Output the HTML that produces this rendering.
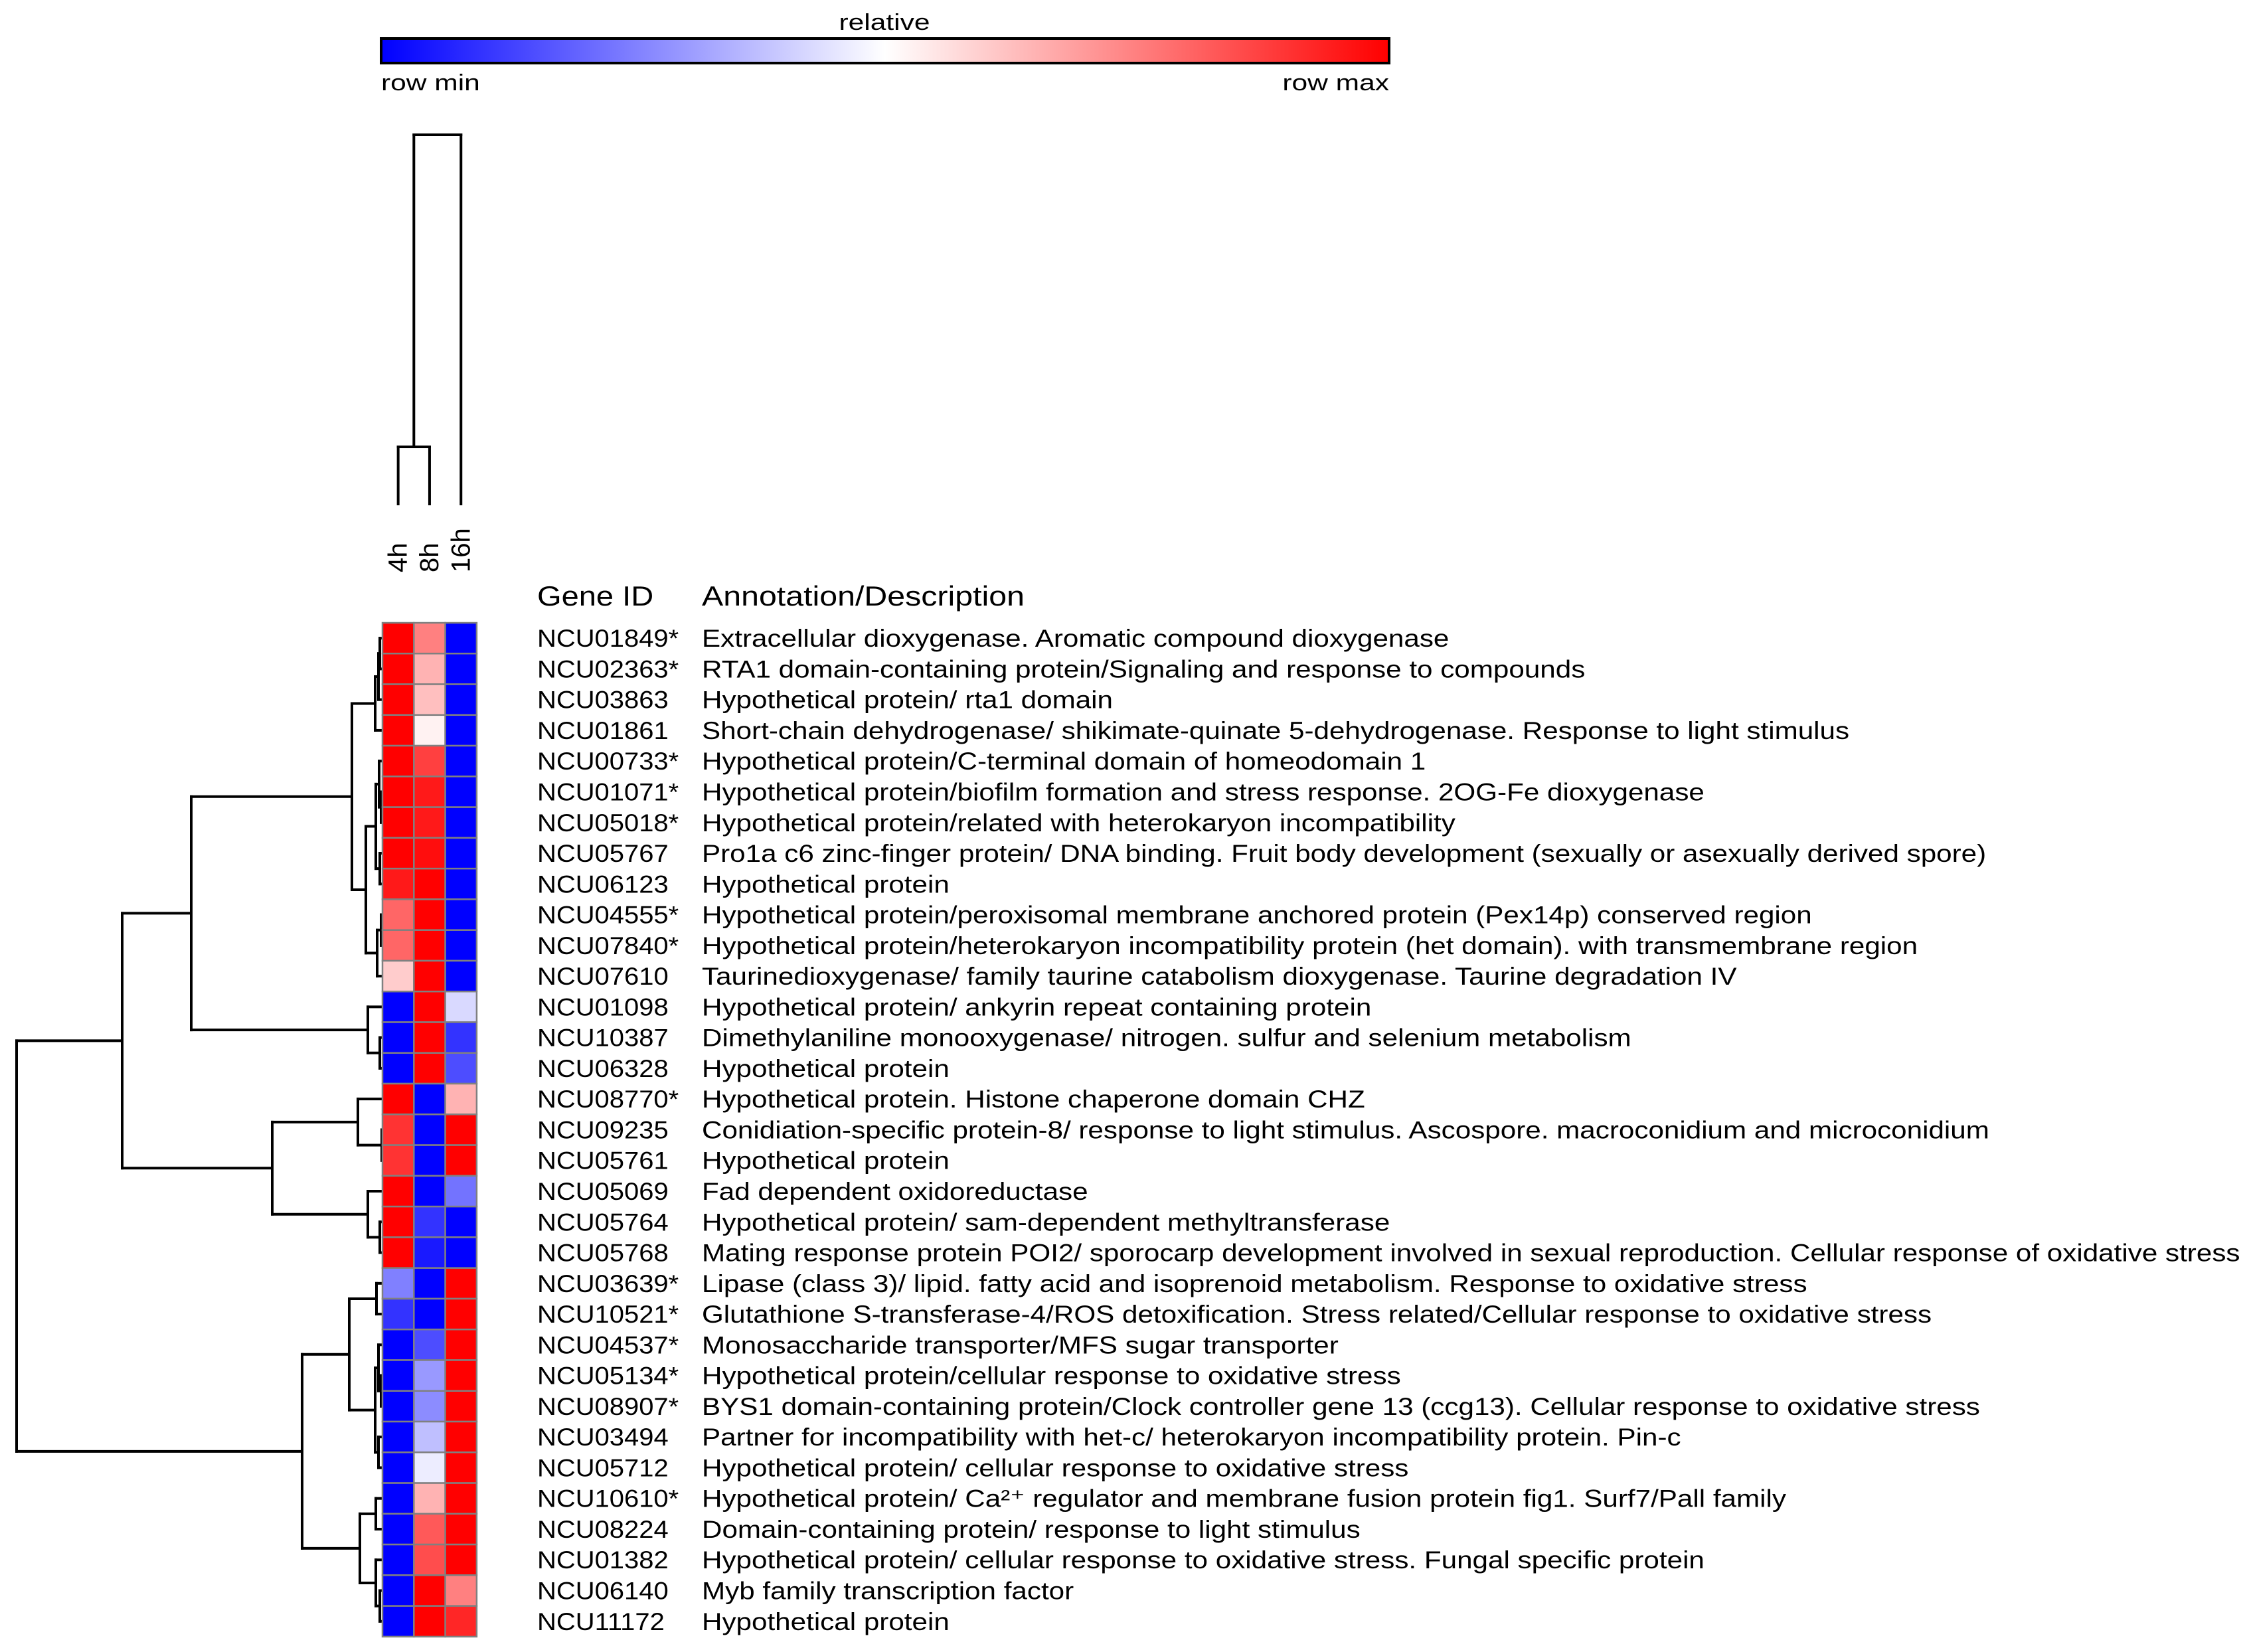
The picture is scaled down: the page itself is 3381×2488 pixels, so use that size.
<!DOCTYPE html>
<html><head><meta charset="utf-8"><style>
html,body{margin:0;padding:0;background:#fff}
svg{display:block}
text{font-family:"Liberation Sans",Arial,sans-serif;fill:#000}
</style></head><body>
<svg id="chart" width="3381" height="2488" viewBox="0 0 3381 2488" xmlns="http://www.w3.org/2000/svg">
<defs><linearGradient id="grad" x1="0" x2="1" y1="0" y2="0">
<stop offset="0" stop-color="#0000ff"/><stop offset="0.5" stop-color="#ffffff"/><stop offset="1" stop-color="#ff0000"/></linearGradient></defs>
<g>
<text class="sc" data-k="1.25" x="1332" y="45" font-size="34" text-anchor="middle">relative</text>
<rect x="574" y="58" width="1518" height="37" fill="url(#grad)" stroke="#000" stroke-width="4"/>
<text class="sc" data-k="1.25" x="574" y="136" font-size="34">row min</text>
<text class="sc" data-k="1.25" x="2092" y="136" font-size="34" text-anchor="end">row max</text>
</g>
<g id="coldend"></g>
<g id="cols"></g>
<text class="sc" data-k="1.12" x="809" y="912" font-size="42">Gene ID</text>
<text class="sc" data-k="1.15" x="1057" y="912" font-size="42">Annotation/Description</text>
<g id="rowdend"></g>
<g id="cells"></g>
<g id="labels"></g>
</svg>
<script>
const columns = ["4h","8h","16h"];
const geneIds = ["NCU01849*","NCU02363*","NCU03863","NCU01861","NCU00733*","NCU01071*","NCU05018*","NCU05767","NCU06123","NCU04555*","NCU07840*","NCU07610","NCU01098","NCU10387","NCU06328","NCU08770*","NCU09235","NCU05761","NCU05069","NCU05764","NCU05768","NCU03639*","NCU10521*","NCU04537*","NCU05134*","NCU08907*","NCU03494","NCU05712","NCU10610*","NCU08224","NCU01382","NCU06140","NCU11172"];
const annotations = ["Extracellular dioxygenase. Aromatic compound dioxygenase","RTA1 domain-containing protein/Signaling and response to compounds","Hypothetical protein/ rta1 domain","Short-chain dehydrogenase/ shikimate-quinate 5-dehydrogenase. Response to light stimulus","Hypothetical protein/C-terminal domain of homeodomain 1","Hypothetical protein/biofilm formation and stress response. 2OG-Fe dioxygenase","Hypothetical protein/related with heterokaryon incompatibility","Pro1a c6 zinc-finger protein/ DNA binding. Fruit body development (sexually or asexually derived spore)","Hypothetical protein","Hypothetical protein/peroxisomal membrane anchored protein (Pex14p) conserved region","Hypothetical protein/heterokaryon incompatibility protein (het domain). with transmembrane region","Taurinedioxygenase/ family taurine catabolism dioxygenase. Taurine degradation IV","Hypothetical protein/ ankyrin repeat containing protein","Dimethylaniline monooxygenase/ nitrogen. sulfur and selenium metabolism","Hypothetical protein","Hypothetical protein. Histone chaperone domain CHZ","Conidiation-specific protein-8/ response to light stimulus. Ascospore. macroconidium and microconidium","Hypothetical protein","Fad dependent oxidoreductase","Hypothetical protein/ sam-dependent methyltransferase","Mating response protein POI2/ sporocarp development involved in sexual reproduction. Cellular response of oxidative stress","Lipase (class 3)/ lipid. fatty acid and isoprenoid metabolism. Response to oxidative stress","Glutathione S-transferase-4/ROS detoxification. Stress related/Cellular response to oxidative stress","Monosaccharide transporter/MFS sugar transporter","Hypothetical protein/cellular response to oxidative stress","BYS1 domain-containing protein/Clock controller gene 13 (ccg13). Cellular response to oxidative stress","Partner for incompatibility with het-c/ heterokaryon incompatibility protein. Pin-c","Hypothetical protein/ cellular response to oxidative stress","Hypothetical protein/ Ca\u00b2\u207a regulator and membrane fusion protein fig1. Surf7/Pall family","Domain-containing protein/ response to light stimulus","Hypothetical protein/ cellular response to oxidative stress. Fungal specific protein","Myb family transcription factor","Hypothetical protein"];
const vals4h  = [1,1,1,1,1,1,1,1,0.9,0.6,0.6,0.2,-1,-1,-1,1,0.8,0.8,1,1,1,-0.5,-0.8,-1,-1,-1,-1,-1,-1,-1,-1,-1,-1];
const vals8h  = [0.5,0.3,0.25,0.05,0.75,0.9,0.9,0.95,1,1,1,1,1,1,1,-1,-1,-1,-1,-0.8,-0.9,-1,-1,-0.7,-0.4,-0.45,-0.25,-0.07,0.3,0.65,0.7,1,1];
const vals16h = [-1,-1,-1,-1,-1,-1,-1,-1,-1,-1,-1,-1,-0.15,-0.8,-0.7,0.3,1,1,-0.55,-1,-1,1,1,1,1,1,1,1,1,1,1,0.5,0.85];
// row dendrogram merges: [height(x px), left, right]
const rowTree = [25,[184,[288,[530,[565,[570,[572,0,1],2],3],[551,[566,[571,4,[574,5,6]],[572,7,8]],[568,[574,9,10],11]]],[554,12,[572,13,14]]],[410,[539,15,[575,16,17]],[554,18,[572,19,20]]]],[455,[526,[567,21,22],[565,[570,23,[574,24,25]],[570,26,27]]],[542,[566,28,29],[566,30,[572,31,32]]]]];

const NS="http://www.w3.org/2000/svg";
const X0=576, CW=47.3, Y0=938, RH=46.27;
const colX=i=>X0+CW*i, rowY=i=>Y0+RH*i;
function color(v){ if(v>=0){const c=Math.round(255*(1-v));return `rgb(255,${c},${c})`;} const c=Math.round(255*(1+v));return `rgb(${c},${c},255)`; }
function mk(tag,attrs,parent){const e=document.createElementNS(NS,tag);for(const k in attrs)e.setAttribute(k,attrs[k]);parent.appendChild(e);return e;}
const series=[vals4h,vals8h,vals16h];
const cells=document.getElementById('cells'), labels=document.getElementById('labels');
for(let r=0;r<geneIds.length;r++){
  for(let c=0;c<3;c++){
    const e=mk('rect',{x:colX(c),y:rowY(r),width:CW,height:RH,fill:color(series[c][r]),stroke:'#808080','stroke-width':2.5},cells);
    
    
  }
  const g=mk('text',{x:809,y:rowY(r)+RH/2+13,'font-size':37,'class':'sc','data-k':'1.08'},labels);
  g.textContent=geneIds[r];
  
  
  const a=mk('text',{x:1057,y:rowY(r)+RH/2+13,'font-size':37,'class':'sc','data-k':'1.14'},labels);
  a.textContent=annotations[r];
  
  
}
const rd=document.getElementById('rowdend');
function line(x1,y1,x2,y2,p){const e=mk('line',{x1,y1,x2,y2,stroke:'#000','stroke-width':4,'stroke-linecap':'square'},p);}
function draw(n){
  if(typeof n==='number') return {x:X0,y:rowY(n)+RH/2};
  const a=draw(n[1]), b=draw(n[2]), h=n[0];
  line(h,a.y,a.x,a.y,rd); line(h,b.y,b.x,b.y,rd); line(h,a.y,h,b.y,rd);
  return {x:h,y:(a.y+b.y)/2};
}
draw(rowTree);
const colTree=[203,[673,0,1],2];
const cd=document.getElementById('coldend');
function drawC(n){
  if(typeof n==='number') return {x:colX(n)+CW/2,y:759};
  const a=drawC(n[1]), b=drawC(n[2]), h=n[0];
  line(a.x,h,a.x,a.y,cd); line(b.x,h,b.x,b.y,cd); line(a.x,h,b.x,h,cd);
  return {x:(a.x+b.x)/2,y:h};
}
drawC(colTree);
const cl=document.getElementById('cols');
columns.forEach((c,i)=>{
  const x=colX(i)+CW/2+13;
  const t=mk('text',{x:x,y:862,'font-size':40,transform:`rotate(-90 ${x} 862)`},cl);
  t.textContent=c;
  
  
});
document.querySelectorAll('text.sc').forEach(t=>{
  const k=parseFloat(t.getAttribute('data-k'));
  const w=t.getComputedTextLength();
  t.setAttribute('textLength',(w*k).toFixed(1));
  t.setAttribute('lengthAdjust','spacingAndGlyphs');
});
</script>
</body></html>
